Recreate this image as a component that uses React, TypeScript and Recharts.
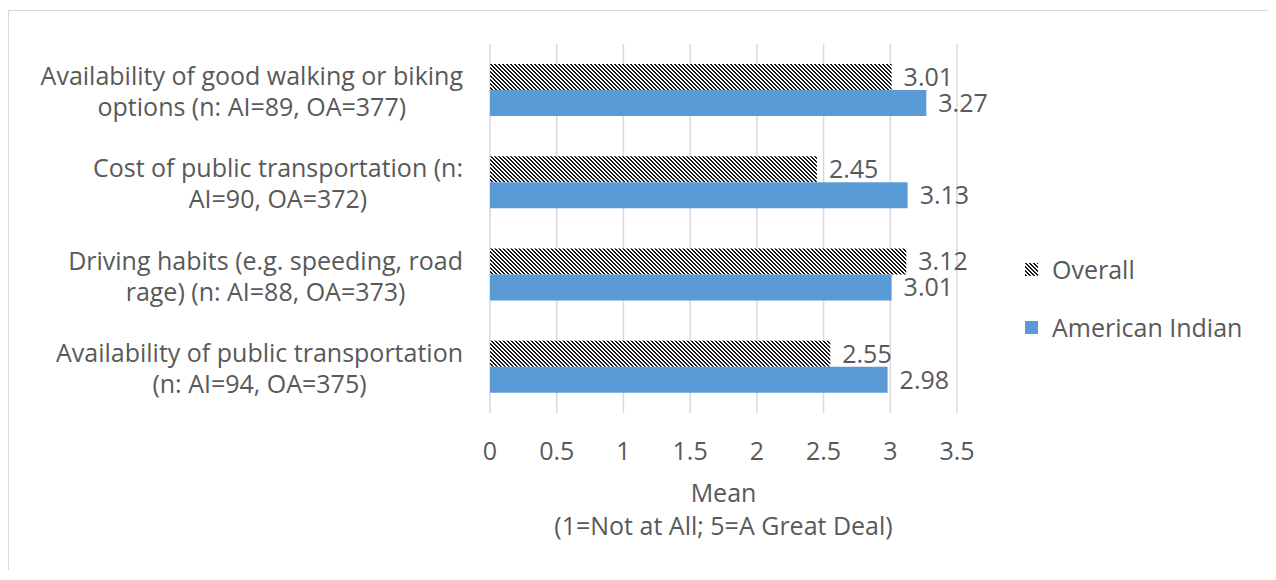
import { BarChart, Bar, XAxis, YAxis, CartesianGrid, LabelList, Legend, Label } from 'recharts';

const categoryLines = [
  ['Availability of good walking or biking', 'options (n: AI=89, OA=377)'],
  ['Cost of public transportation (n:', 'AI=90, OA=372)'],
  ['Driving habits (e.g. speeding, road', 'rage) (n: AI=88, OA=373)'],
  ['Availability of public transportation', '(n: AI=94, OA=375)'],
];
const overall = [3.01, 2.45, 3.12, 2.55];
const americanIndian = [3.27, 3.13, 3.01, 2.98];
const xTicks = [0, 0.5, 1, 1.5, 2, 2.5, 3, 3.5];
const seriesNames = ['Overall', 'American Indian'];

const FONT = '"Open Sans", sans-serif';
const FS = 25;
const TEXT = '#595959';
const BLUE = '#5B9BD5';

const data = categoryLines.map((lines, i) => ({
  name: lines.join(' '),
  overall: overall[i],
  americanIndian: americanIndian[i],
}));

let ctx: CanvasRenderingContext2D | null = null;
function textWidth(s: string) {
  if (!ctx) ctx = document.createElement('canvas').getContext('2d');
  if (!ctx) return s.length * FS * 0.5;
  ctx.font = `${FS}px "Open Sans"`;
  return ctx.measureText(s).width;
}

function CategoryTick(props: any) {
  const { x, y, index } = props;
  const lines = categoryLines[index] || [];
  const maxW = Math.max(...lines.map(textWidth));
  const cx = x - maxW / 2;
  return (
    <text textAnchor="middle" fill={TEXT} fontSize={FS} fontFamily={FONT}>
      <tspan x={cx} y={y - 5}>{lines[0]}</tspan>
      <tspan x={cx} y={y + 26}>{lines[1]}</tspan>
    </text>
  );
}

function ValueTick(props: any) {
  const { x, y, payload } = props;
  return (
    <text x={x} y={y + 47} textAnchor="middle" fill={TEXT} fontSize={FS} fontFamily={FONT}>
      {payload.value}
    </text>
  );
}

function AxisTitle(props: any) {
  const vb = props.viewBox;
  const cx = vb.x + vb.width / 2;
  return (
    <text textAnchor="middle" fill={TEXT} fontSize={FS} fontFamily={FONT}>
      <tspan x={cx} y={vb.y + 89}>Mean</tspan>
      <tspan x={cx} y={vb.y + 122}>(1=Not at All; 5=A Great Deal)</tspan>
    </text>
  );
}

function LegendContent() {
  const fills = ['url(#hatch)', BLUE];
  return (
    <div style={{ fontFamily: FONT, fontSize: FS, color: TEXT }}>
      {seriesNames.map((n, i) => (
        <div key={n} style={{ display: 'flex', alignItems: 'center', height: 58 }}>
          <svg width={13} height={13} style={{ marginRight: 14 }}>
            <rect width={13} height={13} fill={fills[i]} />
          </svg>
          <span>{n}</span>
        </div>
      ))}
    </div>
  );
}

export default function App() {
  return (
    <div
      style={{
        marginTop: 2,
        width: 1268,
        height: 560,
        boxSizing: 'border-box',
        borderTop: '1px solid #d9d9d9',
        borderLeft: '1px solid #d9d9d9',
      }}
    >
      <BarChart
        width={1260}
        height={558}
        data={data}
        layout="vertical"
        margin={{ top: 33, right: 312, bottom: 6, left: 0 }}
        barSize={26}
        barGap={0}
      >
        <defs>
          <pattern id="hatch" patternUnits="userSpaceOnUse" width={4} height={4}>
            <rect width={4} height={4} fill="#ffffff" />
            <g fill="#1a1a1a" shapeRendering="crispEdges">
              <rect x={0} y={0} width={2} height={1} />
              <rect x={1} y={1} width={2} height={1} />
              <rect x={2} y={2} width={2} height={1} />
              <rect x={3} y={3} width={1} height={1} />
              <rect x={0} y={3} width={1} height={1} />
            </g>
          </pattern>
        </defs>
        <CartesianGrid horizontal={false} stroke="#d9d9d9" strokeWidth={1.5} />
        <XAxis
          type="number"
          domain={[0, 3.5]}
          ticks={xTicks}
          axisLine={false}
          tickLine={false}
          tickSize={0}
          tickMargin={0}
          height={150}
          tick={<ValueTick />}
          interval={0}
        >
          <Label content={<AxisTitle />} />
        </XAxis>
        <YAxis
          type="category"
          dataKey="name"
          width={481}
          axisLine={false}
          tickLine={false}
          tickSize={0}
          tickMargin={27}
          tick={<CategoryTick />}
          interval={0}
        />
        <Legend
          layout="vertical"
          align="center"
          verticalAlign="middle"
          wrapperStyle={{ left: 1016, top: 229, width: 244 }}
          content={<LegendContent />}
        />
        <Bar dataKey="overall" name="Overall" fill="url(#hatch)" isAnimationActive={false}>
          <LabelList
            dataKey="overall"
            position="right"
            offset={12}
            fill={TEXT}
            fontSize={FS}
            fontFamily={FONT}
            formatter={(v: any) => Number(v).toFixed(2)}
          />
        </Bar>
        <Bar dataKey="americanIndian" name="American Indian" fill={BLUE} isAnimationActive={false}>
          <LabelList
            dataKey="americanIndian"
            position="right"
            offset={12}
            fill={TEXT}
            fontSize={FS}
            fontFamily={FONT}
            formatter={(v: any) => Number(v).toFixed(2)}
          />
        </Bar>
      </BarChart>
    </div>
  );
}
